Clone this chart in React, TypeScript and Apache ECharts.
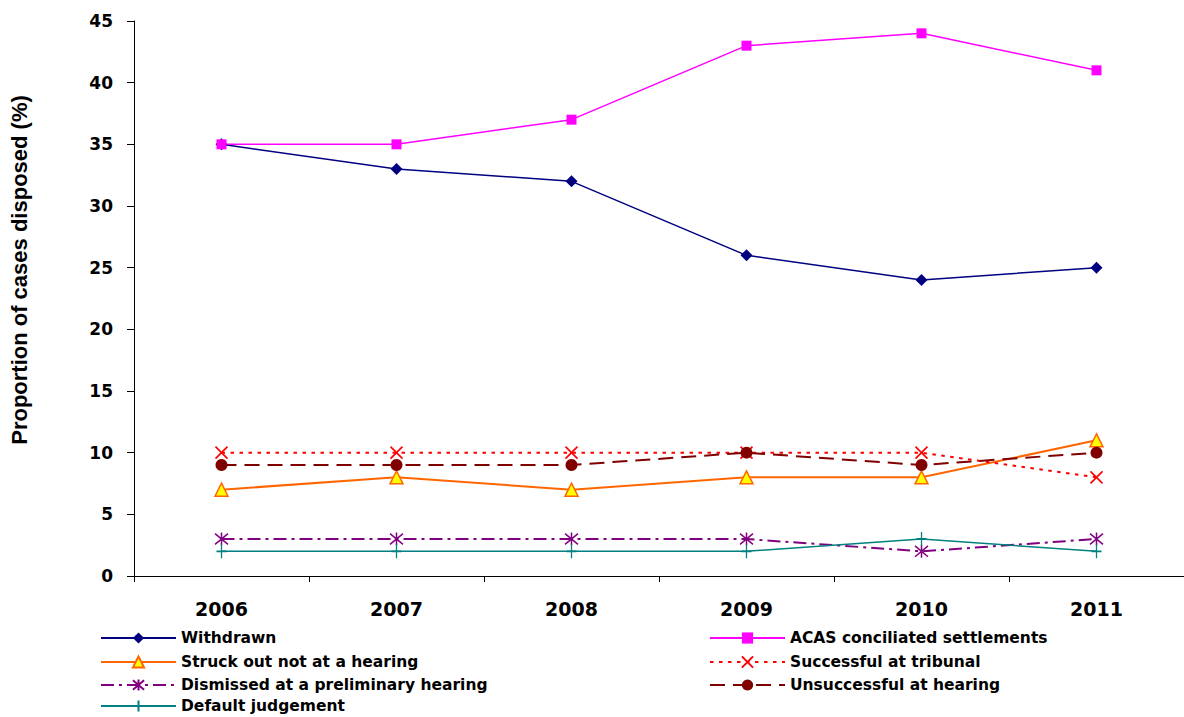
import React, { useEffect, useRef } from "react";
import * as echarts from "echarts";

const categories = ["2006", "2007", "2008", "2009", "2010", "2011"];
const withdrawn = [35, 33, 32, 26, 24, 25];
const acas = [35, 35, 37, 43, 44, 41];
const struckOut = [7, 8, 7, 8, 8, 11];
const successful = [10, 10, 10, 10, 10, 8];
const dismissed = [3, 3, 3, 3, 2, 3];
const unsuccessful = [9, 9, 9, 10, 9, 10];
const defaultJudgement = [2, 2, 2, 2, 3, 2];
const yTitle = "Proportion of cases disposed (%)";

const leftLegend = [
  "Withdrawn",
  "Struck out not at a hearing",
  "Dismissed at a preliminary hearing",
  "Default judgement",
];
const rightLegend = [
  "ACAS conciliated settlements",
  "Successful at tribunal",
  "Unsuccessful at hearing",
];

const X_PATH = "path://M0,0L10,10M10,0L0,10";
const STAR_PATH = "path://M0,0L10,10M10,0L0,10M5,-1L5,11";
const PLUS_PATH = "path://M5,0L5,13M1,6.5L9,6.5";

export default function App() {
  const ref = useRef<HTMLDivElement>(null);
  useEffect(() => {
    document.body.style.margin = "0";
    const chart = echarts.init(ref.current!, null, { renderer: "svg" });
    const legendText = {
      fontFamily: "DejaVu Sans",
      fontWeight: "bold",
      fontSize: 15.5,
      color: "#000",
      lineHeight: 14,
    };
    const rowTops = [630, 654, 677, 698];
    const legends: any[] = [];
    leftLegend.forEach((n, i) =>
      legends.push({
        orient: "horizontal",
        left: 100,
        top: rowTops[i],
        padding: 0,
        itemWidth: 75,
        itemHeight: 14,
        selectedMode: false,
        textStyle: legendText,
        data: [n],
      })
    );
    rightLegend.forEach((n, i) =>
      legends.push({
        orient: "horizontal",
        left: 709,
        top: rowTops[i],
        padding: 0,
        itemWidth: 75,
        itemHeight: 14,
        selectedMode: false,
        textStyle: legendText,
        data: [n],
      })
    );
    const mk = (name: string, data: number[], color: string, extra: any) => ({
      name,
      type: "line",
      data,
      color,
      lineStyle: { color, width: 1.5 },
      itemStyle: { color, borderColor: color, borderWidth: 0 },
      ...extra,
    });
    chart.setOption({
      animation: false,
      backgroundColor: "#fff",
      grid: { left: 134, right: -3, top: 21, bottom: 141, containLabel: false },
      xAxis: {
        type: "category",
        data: categories,
        boundaryGap: true,
        axisLine: { lineStyle: { color: "#000", width: 1 } },
        axisTick: { show: true, length: 6, lineStyle: { color: "#000" } },
        axisLabel: {
          margin: 23,
          fontFamily: "DejaVu Sans",
          fontWeight: "bold",
          fontSize: 19,
          color: "#000",
        },
        splitLine: { show: false },
      },
      yAxis: {
        type: "value",
        min: 0,
        max: 45,
        interval: 5,
        axisLine: { show: true, lineStyle: { color: "#000", width: 1 } },
        axisTick: { show: true, length: 7, lineStyle: { color: "#000" } },
        axisLabel: {
          margin: 21,
          fontFamily: "DejaVu Sans",
          fontWeight: "bold",
          fontSize: 17,
          color: "#000",
        },
        splitLine: { show: false },
      },
      legend: legends,
      graphic: [
        {
          type: "text",
          x: 19,
          y: 270,
          rotation: Math.PI / 2,
          style: {
            text: yTitle,
            fontFamily: "Liberation Sans",
            fontWeight: "bold",
            fontSize: 22,
            fill: "#000",
            textAlign: "center",
            textVerticalAlign: "middle",
          },
        },
      ],
      series: [
        mk("Withdrawn", withdrawn, "#000080", {
          symbol: "diamond",
          symbolSize: [12, 12],
        }),
        mk("ACAS conciliated settlements", acas, "#FF00FF", {
          symbol: "rect",
          symbolSize: 10,
        }),
        mk("Struck out not at a hearing", struckOut, "#FF6600", {
          symbol: "triangle",
          symbolSize: 13,
          lineStyle: { color: "#FF6600", width: 2 },
          itemStyle: { color: "#FFFF00", borderColor: "#FF6600", borderWidth: 1.5 },
        }),
        mk("Successful at tribunal", successful, "#FF0000", {
          symbol: X_PATH,
          symbolSize: 12,
          lineStyle: { color: "#FF0000", width: 2, type: [3.5, 5.5] },
          itemStyle: { color: "#FF0000", borderColor: "#FF0000", borderWidth: 1.6 },
        }),
        mk("Dismissed at a preliminary hearing", dismissed, "#800080", {
          symbol: STAR_PATH,
          symbolSize: 13,
          lineStyle: { color: "#800080", width: 2, type: [13, 5, 3, 5] },
          itemStyle: { color: "#800080", borderColor: "#800080", borderWidth: 1.5 },
        }),
        mk("Unsuccessful at hearing", unsuccessful, "#800000", {
          symbol: "circle",
          symbolSize: 12,
          lineStyle: { color: "#800000", width: 2, type: [15, 8] },
        }),
        mk("Default judgement", defaultJudgement, "#008080", {
          symbol: PLUS_PATH,
          symbolSize: [10, 14],
          lineStyle: { color: "#008080", width: 1.5 },
          itemStyle: { color: "#008080", borderColor: "#008080", borderWidth: 1.5 },
        }),
      ],
    });
    return () => chart.dispose();
  }, []);
  return <div ref={ref} style={{ width: 1184, height: 717 }} />;
}
